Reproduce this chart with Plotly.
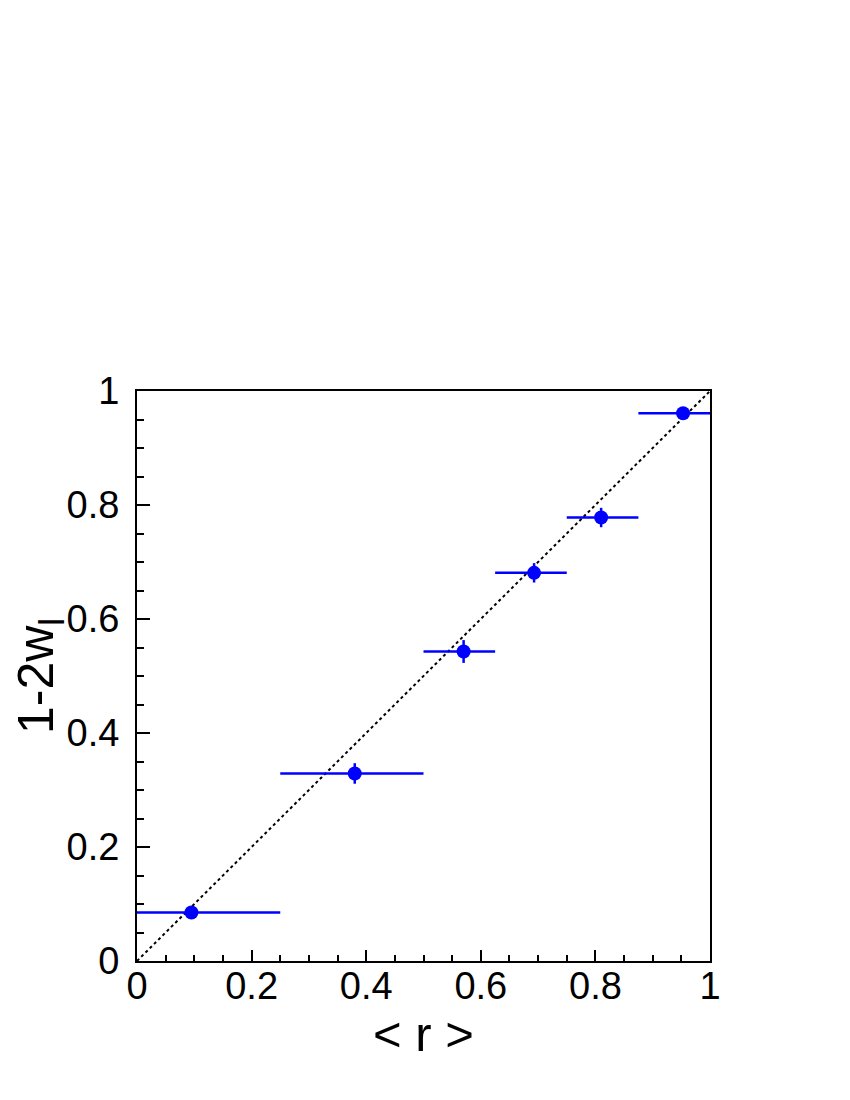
import plotly.graph_objects as go

# bin means, measured values and bin edges
r_mean = [0.095, 0.38, 0.57, 0.693, 0.81, 0.953]
val = [0.085, 0.329, 0.543, 0.681, 0.778, 0.961]
val_err = [0.01, 0.018, 0.02, 0.017, 0.017, 0.008]
bin_lo = [0.0, 0.25, 0.5, 0.625, 0.75, 0.875]
bin_hi = [0.25, 0.5, 0.625, 0.75, 0.875, 1.0]

diag_x = [0, 1]
diag_y = [0, 1]

tick_vals = [0, 0.2, 0.4, 0.6, 0.8, 1]
tick_text = ['0', '0.2', '0.4', '0.6', '0.8', '1']

FONT = 'Liberation Sans, Arial, sans-serif'

fig = go.Figure()

fig.add_trace(go.Scatter(x=diag_x, y=diag_y, mode='lines',
                         line=dict(color='black', width=2, dash='dot'),
                         showlegend=False, hoverinfo='skip'))

fig.add_trace(go.Scatter(
    x=r_mean, y=val, mode='markers',
    marker=dict(color='#0000ff', size=14),
    error_x=dict(type='data', symmetric=False,
                 array=[h - x for h, x in zip(bin_hi, r_mean)],
                 arrayminus=[x - l for x, l in zip(r_mean, bin_lo)],
                 color='#0000ff', thickness=2.5, width=0),
    error_y=dict(type='data', array=val_err, color='#0000ff',
                 thickness=2.5, width=0),
    showlegend=False))

axis_common = dict(range=[0, 1], showgrid=False, zeroline=False,
                   showline=True, linecolor='black', linewidth=2, mirror=True,
                   tickvals=tick_vals, ticktext=tick_text,
                   ticks='inside', tickcolor='black', tickwidth=2,
                   tickfont=dict(family=FONT, size=38, color='black'))

fig.update_xaxes(**axis_common, ticklen=11, ticklabelstandoff=-10,
                 minor=dict(dtick=0.05, ticks='inside', ticklen=6,
                            tickcolor='black', tickwidth=2),
                 title=dict(text='&lt; r &gt;', standoff=0,
                            font=dict(family=FONT, size=49, color='black')))
fig.update_yaxes(**axis_common, ticklen=13, ticklabelstandoff=8,
                 minor=dict(dtick=0.05, ticks='inside', ticklen=7,
                            tickcolor='black', tickwidth=2),
                 title=dict(text='1-2w<sub>l</sub>', standoff=10,
                            font=dict(family=FONT, size=50, color='black')))

fig.update_layout(width=850, height=1100,
                  margin=dict(l=129, r=148, t=383, b=147),
                  plot_bgcolor='white', paper_bgcolor='white')

fig.write_html("out.html")
